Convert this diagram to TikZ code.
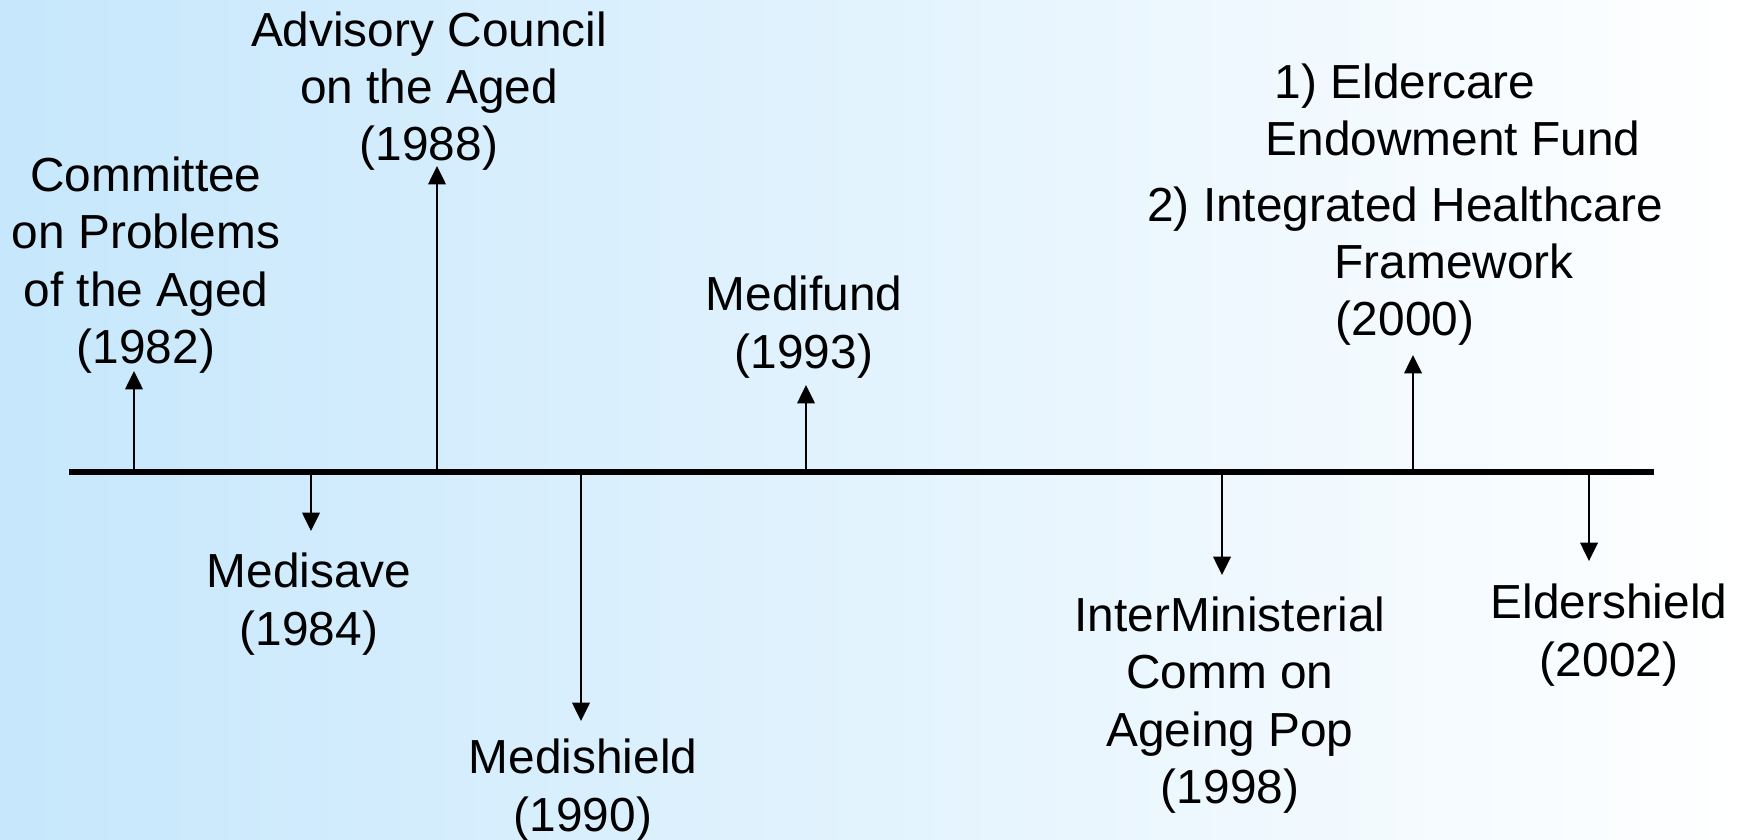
\documentclass[tikz,border=0pt]{standalone}
\usepackage{fontspec}
\setmainfont{Liberation Sans}
\usetikzlibrary{arrows.meta,positioning,calc}

\definecolor{bgleft}{RGB}{198,231,252}
\definecolor{bgright}{RGB}{255,255,255}

\tikzset{
    arrow/.style={line width=0.45pt, -{Triangle[length=5.2pt,width=5pt]}},
}

\begin{document}
\begin{tikzpicture}[
    x=0.1mm, y=-0.1mm,
    every node/.style={font=\fontsize{13.6pt}{16.3pt}\selectfont},
    event/.style={align=center, inner sep=0pt},
    axis/.style={line width=1.7pt}
]
    % Background
    \shade[left color=bgleft, right color=bgright] (0,0) rectangle (1745,839);
    \useasboundingbox (0,0) rectangle (1745,839);

    % Timeline
    \coordinate (start) at (69,472);
    \coordinate (end) at (1654,472);
    \draw[axis] (start) -- (end);

    % Points on the line
    \coordinate (y82) at (134,472);
    \coordinate (y84) at (311,472);
    \coordinate (y88) at (437,472);
    \coordinate (y90) at (581,472);
    \coordinate (y93) at (806,472);
    \coordinate (y98) at (1222,472);
    \coordinate (y00) at (1413,472);
    \coordinate (y02) at (1589,472);

    % Arrow tips
    \coordinate (h82) at (134,371);
    \coordinate (h84) at (311,531);
    \coordinate (h88) at (437,166);
    \coordinate (h90) at (581,721);
    \coordinate (h93) at (806,385);
    \coordinate (h98) at (1222,575);
    \coordinate (h00) at (1413,355);
    \coordinate (h02) at (1589,561);

    % Events above the line
    \node[event] (e82) at (146,265) {Committee\\on Problems\\of the Aged\\(1982)};
    \node[event] (e88) at (429,91) {Advisory Council\\on the Aged\\(1988)};
    \node[event] (e93) at (804,327) {Medifund\\(1993)};
    \node[event] (e00a) at (1453,110) {1) Eldercare\hspace*{27.3pt}\\Endowment Fund};
    \node[event] (e00b) at (1405,266) {2) Integrated Healthcare\\\hspace*{27.9pt}Framework\\(2000)};

    % Events below the line
    \node[event] (e84) at (309,604) {Medisave\\(1984)};
    \node[event] (e90) at (583,790) {Medishield\\(1990)};
    \node[event] (e98) at (1230,705) {InterMinisterial\\Comm on\\Ageing Pop\\(1998)};
    \node[event] (e02) at (1609,635) {Eldershield\\(2002)};

    % Arrows
    \draw[arrow] (y82) -- (h82);
    \draw[arrow] (y84) -- (h84);
    \draw[arrow] (y88) -- (h88);
    \draw[arrow] (y90) -- (h90);
    \draw[arrow] (y93) -- (h93);
    \draw[arrow] (y98) -- (h98);
    \draw[arrow] (y00) -- (h00);
    \draw[arrow] (y02) -- (h02);

\end{tikzpicture}
\end{document}
